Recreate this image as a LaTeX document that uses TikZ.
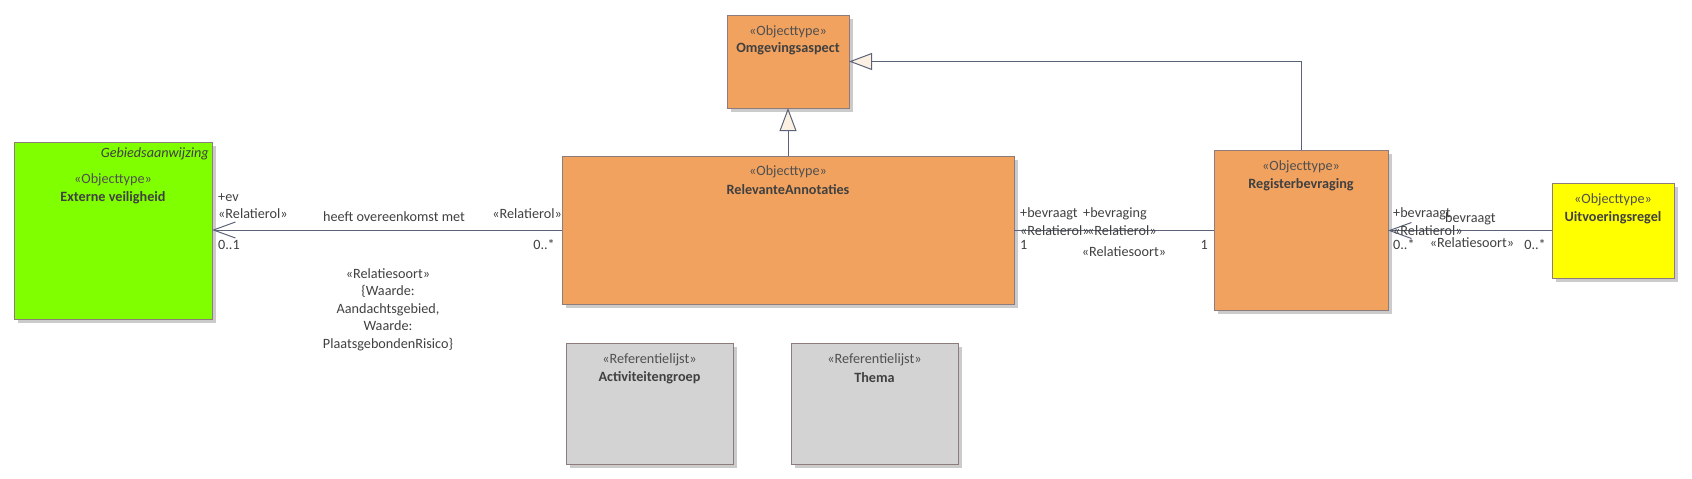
\documentclass[tikz,border=0pt]{standalone}
\usepackage{fontspec}
\setmainfont{Carlito}
\usetikzlibrary{arrows.meta,shadows,calc}
\definecolor{orangebox}{HTML}{F2A25F}
\definecolor{greenbox}{HTML}{80FF00}
\definecolor{yellowbox}{HTML}{FFFF00}
\definecolor{graybox}{HTML}{D3D3D3}
\definecolor{boxborder}{HTML}{8E7C7C}
\definecolor{shadowc}{HTML}{CBCBCB}
\definecolor{linec}{HTML}{5B6378}
\definecolor{txt}{HTML}{404040}
\definecolor{stxt}{HTML}{505050}
\definecolor{trifill}{HTML}{FBF0E2}
\tikzset{
  umlbox/.style={draw=boxborder, line width=0.9pt, anchor=north west, inner sep=0pt, outer sep=0pt,
    drop shadow={shadow xshift=4pt, shadow yshift=-4pt, fill=shadowc, opacity=1}},
  stereo/.style={text=stxt, inner sep=0pt, font=\fontsize{14.2}{17}\selectfont},
  cname/.style={text=txt, inner sep=0pt, font=\fontsize{14.2}{17}\selectfont\bfseries},
  lbl/.style={text=txt, inner sep=0pt, font=\fontsize{14.2}{17}\selectfont},
  assoc/.style={draw=linec, line width=1pt},
  openarrow/.style={-{Straight Barb[length=22pt,width=16pt,line width=1pt]}},
  genarrow/.style={-{Triangle[open,length=23pt,width=17pt,line width=1pt,fill=trifill]}}
}
\begin{document}
\begin{tikzpicture}[x=1pt,y=-1pt]
\path[use as bounding box] (0,0) rectangle (1692,479);

% boxes
\node[umlbox, fill=greenbox, minimum width=198pt, minimum height=177pt] (ext) at (14,142) {};
\node[umlbox, fill=orangebox, minimum width=122pt, minimum height=93pt] (omg) at (727,15) {};
\node[umlbox, fill=orangebox, minimum width=452pt, minimum height=148pt] (rel) at (562,156) {};
\node[umlbox, fill=orangebox, minimum width=174pt, minimum height=160pt] (reg) at (1214,150) {};
\node[umlbox, fill=yellowbox, minimum width=122pt, minimum height=95pt] (uit) at (1552,183) {};
\node[umlbox, fill=graybox, minimum width=167pt, minimum height=121pt] (act) at (566,343) {};
\node[umlbox, fill=graybox, minimum width=167pt, minimum height=121pt] (thema) at (791,343) {};

% box texts
\node[lbl, anchor=east, font=\fontsize{14.2}{17}\selectfont\itshape] (extgeb) at (209,154) {Gebiedsaanwijzing};
\node[stereo] (exts) at (113,180) {«Objecttype»};
\node[cname] (extn) at (113,198) {Externe veiligheid};
\node[stereo] (omgs) at (788,32) {«Objecttype»};
\node[cname] (omgn) at (788,49) {Omgevingsaspect};
\node[stereo] (rels) at (788,172) {«Objecttype»};
\node[cname] (reln) at (788,190) {RelevanteAnnotaties};
\node[stereo] (regs) at (1301,167) {«Objecttype»};
\node[cname] (regn) at (1301,185) {Registerbevraging};
\node[stereo] (uits) at (1613,200) {«Objecttype»};
\node[cname] (uitn) at (1613,218) {Uitvoeringsregel};
\node[stereo] (acts) at (649.5,360) {«Referentielijst»};
\node[cname] (actn) at (649.5,378) {Activiteitengroep};
\node[stereo] (themas) at (874.5,360) {«Referentielijst»};
\node[cname] (theman) at (874.5,378) {Thema};

% generalizations
\draw[assoc, genarrow] (rel.north) -- (omg.south);
\draw[assoc, genarrow] (reg.north) |- (omg.east);

% associations
\draw[assoc, openarrow] (rel.west) -- (ext.east |- rel.west);
\draw[assoc] (rel.east) -- (reg.west |- rel.east);
\draw[assoc, openarrow] (uit.west) -- (reg.east |- uit.west);

% left association labels
\node[lbl, anchor=west] (l1) at (218,198) {+ev};
\node[lbl, anchor=west] (l2) at (218,214) {«Relatierol»};
\node[lbl, anchor=west] (l3) at (218,245) {0..1};
\node[lbl] (l4) at (394,217) {heeft overeenkomst met};
\node[lbl, anchor=east] (l5) at (562,214) {«Relatierol»};
\node[lbl, anchor=east] (l6) at (555,245) {0..*};
\node[lbl, align=center, anchor=north, font=\fontsize{14.2}{17.5}\selectfont] (l7) at (388,268)
  {«Relatiesoort»\\\{Waarde:\\Aandachtsgebied,\\Waarde:\\PlaatsgebondenRisico\}};

% middle association labels
\node[lbl, anchor=west] (m1) at (1020,214) {+bevraagt};
\node[lbl, anchor=west] (m2) at (1083,214) {+bevraging};
\node[lbl, anchor=west] (m3) at (1020,231) {«Relatierol»};
\node[lbl, anchor=west] (m4) at (1087,231) {«Relatierol»};
\node[lbl, anchor=west] (m5) at (1020,245) {1};
\node[lbl] (m6) at (1124,252) {«Relatiesoort»};
\node[lbl, anchor=east] (m7) at (1208,245) {1};

% right association labels
\node[lbl, anchor=west] (r1) at (1393,214) {+bevraagt};
\node[lbl, anchor=west] (r2) at (1445,219) {bevraagt};
\node[lbl, anchor=west] (r3) at (1393,231) {«Relatierol»};
\node[lbl, anchor=west] (r4) at (1393,245) {0..*};
\node[lbl] (r5) at (1472,243) {«Relatiesoort»};
\node[lbl, anchor=east] (r6) at (1546,245) {0..*};
\end{tikzpicture}
\end{document}
